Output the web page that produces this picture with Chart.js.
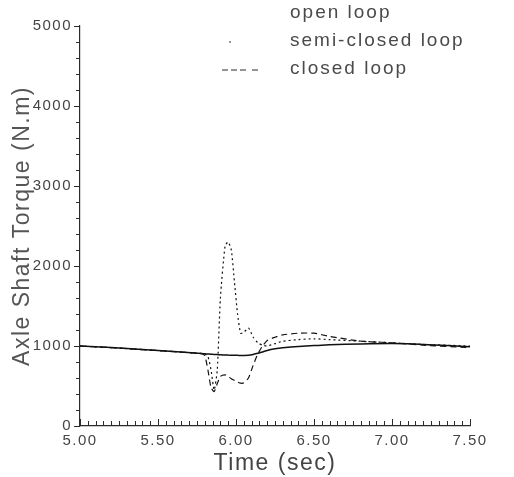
<!DOCTYPE html>
<html>
<head>
<meta charset="utf-8">
<script src="https://cdn.jsdelivr.net/npm/chart.js@4.4.0/dist/chart.umd.min.js"></script>
<style>
  html, body { margin: 0; padding: 0; background: #fff; }
  #wrap { width: 514px; height: 477px; }
</style>
</head>
<body>
<div id="wrap"><canvas id="torqueChart" width="514" height="477"></canvas></div>
<script>
// time samples (sec) shared by all three runs
const timeSec = [5.00, 5.20, 5.40, 5.60, 5.78, 5.80, 5.82, 5.84, 5.86, 5.88, 5.90, 5.93, 5.95, 5.97, 5.99,
                 6.01, 6.03, 6.05, 6.08, 6.11, 6.14, 6.17, 6.20, 6.25, 6.30, 6.40, 6.50, 6.60, 6.80, 7.00, 7.20, 7.50];

// axle shaft torque (N.m)
const openLoop = [1000, 980, 955, 930, 905, 903, 900, 898, 895, 893, 890, 888, 886, 885, 884,
                  883, 882, 882, 884, 895, 910, 925, 945, 965, 978, 995, 1005, 1015, 1025, 1030, 1020, 990];
const semiClosedLoop = [1000, 980, 955, 930, 905, 900, 870, 700, 450, 700, 1600, 2250, 2300, 2200, 1800,
                        1400, 1160, 1170, 1225, 1110, 1040, 1010, 1000, 1030, 1060, 1080, 1090, 1080, 1060, 1040, 1020, 1000];
const closedLoop = [1000, 980, 955, 930, 905, 880, 700, 480, 430, 530, 620, 640, 620, 590, 570,
                    550, 535, 540, 600, 760, 900, 1000, 1070, 1110, 1140, 1160, 1160, 1120, 1060, 1040, 1010, 980];

const xTicks = [5.00, 5.50, 6.00, 6.50, 7.00, 7.50];
const yTicks = [0, 1000, 2000, 3000, 4000, 5000];

const inkColor = '#2b2b2b';
const textColor = '#444';
const fontFamily = "'Liberation Sans', Arial, sans-serif";

function toPoints(values) {
    return timeSec.map((t, i) => ({ x: t, y: values[i] }));
}

// small tick marks along both axes (x ticks point up into the plot)
const axisTicks = {
    id: 'axisTicks',
    afterDraw(chart) {
        const ctx = chart.ctx;
        const xs = chart.scales.x;
        const ys = chart.scales.y;
        const area = chart.chartArea;
        ctx.save();
        ctx.strokeStyle = inkColor;
        ctx.lineWidth = 1;
        ctx.beginPath();
        for (let i = 0; i <= 50; i++) {
            const px = Math.round(xs.getPixelForValue(5 + i * 0.05)) + 0.5;
            const len = (i % 10 === 0) ? 7 : 5;
            ctx.moveTo(px, area.bottom);
            ctx.lineTo(px, area.bottom - len);
        }
        for (let i = 0; i <= 25; i++) {
            const py = Math.round(ys.getPixelForValue(i * 200)) + 0.5;
            const len = (i % 5 === 0) ? 6 : 4;
            ctx.moveTo(area.left, py);
            ctx.lineTo(area.left - len, py);
        }
        ctx.stroke();
        ctx.restore();
    }
};

// legend in the top right corner, sample line left of each label
const cornerLegend = {
    id: 'cornerLegend',
    afterDraw(chart) {
        const ctx = chart.ctx;
        ctx.save();
        ctx.font = '19px ' + fontFamily;
        ctx.fillStyle = '#4a4a4a';
        ctx.textBaseline = 'middle';
        ctx.letterSpacing = '2px';
        chart.data.datasets.forEach((ds, i) => {
            const y = 13 + i * 28;
            ctx.fillText(ds.label, 290, y);
            ctx.strokeStyle = inkColor;
            ctx.lineWidth = 1;
            ctx.beginPath();
            if (i === 1) {
                ctx.moveTo(229, y + 1);
                ctx.lineTo(231, y + 1);
            } else if (i === 2) {
                ctx.setLineDash([6, 3, 6, 3, 6, 6, 6, 100]);
                ctx.moveTo(222, y + 1);
                ctx.lineTo(265, y + 1);
            }
            ctx.stroke();
            ctx.setLineDash([]);
        });
        ctx.restore();
    }
};

// wider letter spacing for the axis text
const spacedText = {
    id: 'spacedText',
    beforeDraw(chart) {
        chart.ctx.letterSpacing = '1.5px';
    }
};

new Chart(document.getElementById('torqueChart'), {
    type: 'line',
    data: {
        datasets: [
            {
                label: 'open loop',
                data: toPoints(openLoop),
                borderColor: '#111',
                borderWidth: 1.5,
                pointRadius: 0,
                tension: 0.2
            },
            {
                label: 'semi-closed loop',
                data: toPoints(semiClosedLoop),
                borderColor: '#111',
                borderWidth: 1.2,
                borderDash: [2, 3],
                pointRadius: 0,
                tension: 0.2
            },
            {
                label: 'closed loop',
                data: toPoints(closedLoop),
                borderColor: '#111',
                borderWidth: 1.2,
                borderDash: [6, 4],
                pointRadius: 0,
                tension: 0.2
            }
        ]
    },
    options: {
        responsive: false,
        animation: false,
        layout: { padding: { top: 26, right: 44, left: 0, bottom: 0 } },
        plugins: {
            legend: { display: false },
            tooltip: { enabled: false }
        },
        scales: {
            x: {
                type: 'linear',
                min: 5,
                max: 7.5,
                afterBuildTicks: s => { s.ticks = xTicks.map(v => ({ value: v })); },
                afterFit: s => { s.height = 51; },
                grid: { display: false, drawTicks: false },
                border: { display: true, color: inkColor, width: 1.2 },
                ticks: {
                    callback: v => Number(v).toFixed(2),
                    padding: 6,
                    color: textColor,
                    maxRotation: 0,
                    autoSkip: false,
                    font: { size: 15, family: fontFamily }
                },
                title: {
                    display: true,
                    text: 'Time (sec)',
                    color: textColor,
                    padding: { top: -2, bottom: 0 },
                    font: { size: 23, family: fontFamily }
                }
            },
            y: {
                min: 0,
                max: 5000,
                afterBuildTicks: s => { s.ticks = yTicks.map(v => ({ value: v })); },
                afterFit: s => { s.width = 80; },
                grid: { display: false, drawTicks: false },
                border: { display: true, color: inkColor, width: 1.2 },
                ticks: {
                    callback: v => String(v),
                    padding: 8,
                    color: textColor,
                    autoSkip: false,
                    font: { size: 15, family: fontFamily }
                },
                title: {
                    display: true,
                    text: 'Axle Shaft Torque (N.m)',
                    color: '#555',
                    padding: { top: 9, bottom: 0 },
                    font: { size: 23, family: fontFamily }
                }
            }
        }
    },
    plugins: [spacedText, axisTicks, cornerLegend]
});
</script>
</body>
</html>
